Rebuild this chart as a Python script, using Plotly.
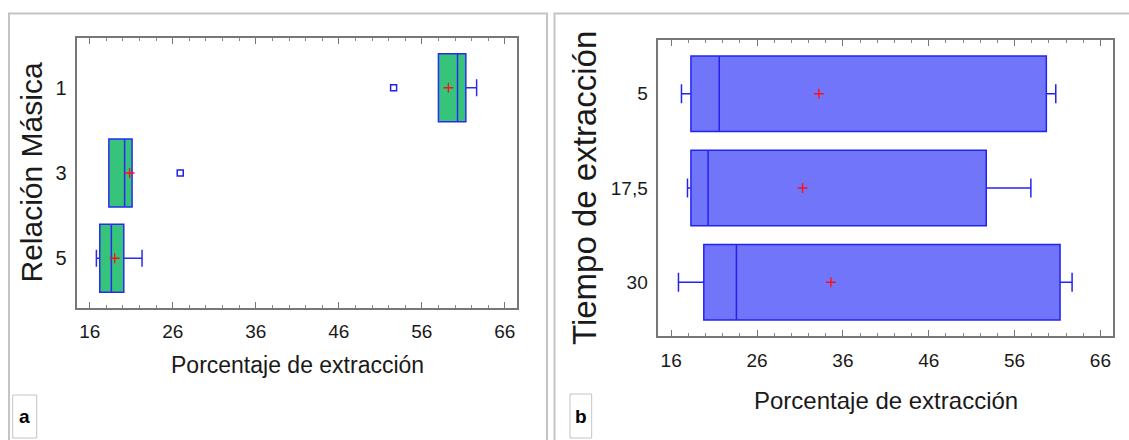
import plotly.graph_objects as go

W, H = 1129, 440

# ---------------- data: panel a (Relación Másica) ----------------
cat_a = ["1", "3", "5"]
q1_a = [58.0, 18.3, 17.2]
med_a = [60.3, 20.2, 18.6]
q3_a = [61.3, 21.1, 20.1]
low_a = [58.0, 18.3, 16.8]
up_a = [62.6, 21.1, 22.3]
mean_a = [59.2, 20.8, 19.0]
out_a_x = [52.6, 26.9]
out_a_y = ["1", "3"]

# ---------------- data: panel b (Tiempo de extracción) ----------------
cat_b = ["5", "17,5", "30"]
q1_b = [18.3, 18.3, 19.8]
med_b = [21.6, 20.3, 23.6]
q3_b = [59.7, 52.7, 61.3]
low_b = [17.2, 17.9, 16.85]
up_b = [60.8, 57.9, 62.7]
mean_b = [33.2, 31.3, 34.6]

x_ticks = [16, 26, 36, 46, 56, 66]


def px(x):
    return x / W


def py(y):
    return 1 - y / H


TXT = "#1a1a1a"
REG = "Liberation Sans, Arial, sans-serif"

fig = go.Figure()

fig.add_trace(go.Box(
    y=cat_a, q1=q1_a, median=med_a, q3=q3_a, lowerfence=low_a, upperfence=up_a,
    orientation="h", boxpoints=False, width=0.8, whiskerwidth=0.25,
    fillcolor="#36C47B", line=dict(color="#2a2af0", width=1.5),
    xaxis="x", yaxis="y", showlegend=False, hoverinfo="skip"))
fig.add_trace(go.Scatter(
    x=mean_a, y=cat_a, mode="markers", xaxis="x", yaxis="y",
    marker=dict(symbol="cross-thin", size=7, line=dict(color="#ff1010", width=1.3)),
    showlegend=False, hoverinfo="skip"))
fig.add_trace(go.Scatter(
    x=out_a_x, y=out_a_y, mode="markers", xaxis="x", yaxis="y",
    marker=dict(symbol="square-open", size=6, color="#2020f0", line=dict(width=1.5)),
    showlegend=False, hoverinfo="skip"))

fig.add_trace(go.Box(
    y=cat_b, q1=q1_b, median=med_b, q3=q3_b, lowerfence=low_b, upperfence=up_b,
    orientation="h", boxpoints=False, width=0.8, whiskerwidth=0.25,
    fillcolor="#7175FA", line=dict(color="#2323f0", width=1.5),
    xaxis="x2", yaxis="y2", showlegend=False, hoverinfo="skip"))
fig.add_trace(go.Scatter(
    x=mean_b, y=cat_b, mode="markers", xaxis="x2", yaxis="y2",
    marker=dict(symbol="cross-thin", size=7, line=dict(color="#ff1010", width=1.3)),
    showlegend=False, hoverinfo="skip"))

xcommon = dict(
    range=[14.5, 67.5], tickvals=x_ticks, ticks="inside", ticklen=6, tickwidth=1,
    tickcolor="#777", showline=True, linecolor="#777", linewidth=1.5, mirror="ticks",
    showgrid=False, zeroline=False, ticklabelstandoff=6,
    minor=dict(tick0=16, dtick=2, ticks="inside", ticklen=3, tickcolor="#888", showgrid=False),
)
ycommon = dict(
    type="category", showline=True, linecolor="#777", linewidth=1.5, mirror=True,
    ticks="", showgrid=False, zeroline=False, ticklabelstandoff=5,
)

fig.update_layout(
    width=W, height=H, autosize=False,
    margin=dict(l=0, r=0, t=0, b=0),
    paper_bgcolor="white", plot_bgcolor="white",
    xaxis=dict(domain=[px(77.3), px(517.3)], anchor="y",
               tickfont=dict(family=REG, size=19, color=TXT), **xcommon),
    yaxis=dict(domain=[py(307.7), py(38.3)], anchor="x",
               categoryorder="array", categoryarray=cat_a, range=[2.58, -0.58],
               tickfont=dict(family=REG, size=20, color=TXT), **ycommon),
    xaxis2=dict(domain=[px(658.3), px(1113.3)], anchor="y2",
                tickfont=dict(family=REG, size=19, color=TXT), **xcommon),
    yaxis2=dict(domain=[py(336), py(40)], anchor="x2",
                categoryorder="array", categoryarray=cat_b, range=[2.57, -0.57],
                tickfont=dict(family=REG, size=19, color=TXT), **ycommon),
)

shapes = []
# panel frames
shapes.append(dict(type="rect", xref="paper", yref="paper",
                   x0=px(9), x1=px(547), y0=py(445), y1=py(13.5),
                   line=dict(color="#c4c4c4", width=2)))
shapes.append(dict(type="rect", xref="paper", yref="paper",
                   x0=px(554.5), x1=px(1140), y0=py(445), y1=py(13.5),
                   line=dict(color="#c4c4c4", width=2)))
# label boxes
shapes.append(dict(type="rect", xref="paper", yref="paper",
                   x0=px(12.7), x1=px(36.7), y0=py(438), y1=py(395),
                   line=dict(color="#c4c4c4", width=1)))
shapes.append(dict(type="rect", xref="paper", yref="paper",
                   x0=px(570), x1=px(591.7), y0=py(438), y1=py(394),
                   line=dict(color="#c4c4c4", width=1)))
fig.update_layout(shapes=shapes)

ann = [
    dict(text="Porcentaje de extracción", x=px(297.5), y=py(365), xref="paper", yref="paper",
         showarrow=False, xanchor="center", yanchor="middle",
         font=dict(family=REG, size=23, color=TXT)),
    dict(text="Porcentaje de extracción", x=px(886), y=py(400), xref="paper", yref="paper",
         showarrow=False, xanchor="center", yanchor="middle",
         font=dict(family=REG, size=24, color=TXT)),
    dict(text="Relación Másica", x=px(30.5), y=py(173), xref="paper", yref="paper",
         showarrow=False, xanchor="center", yanchor="middle", textangle=-90,
         font=dict(family=REG, size=30, color=TXT)),
    dict(text="Tiempo de extracción", x=px(584), y=py(188), xref="paper", yref="paper",
         showarrow=False, xanchor="center", yanchor="middle", textangle=-90,
         font=dict(family=REG, size=33, color=TXT)),
    dict(text="<b>a</b>", x=px(24.7), y=py(416.5), xref="paper", yref="paper",
         showarrow=False, xanchor="center", yanchor="middle",
         font=dict(family=REG, size=19, color="#000")),
    dict(text="<b>b</b>", x=px(581), y=py(416.5), xref="paper", yref="paper",
         showarrow=False, xanchor="center", yanchor="middle",
         font=dict(family=REG, size=19, color="#000")),
]
fig.update_layout(annotations=ann)

fig.write_html("out.html")
